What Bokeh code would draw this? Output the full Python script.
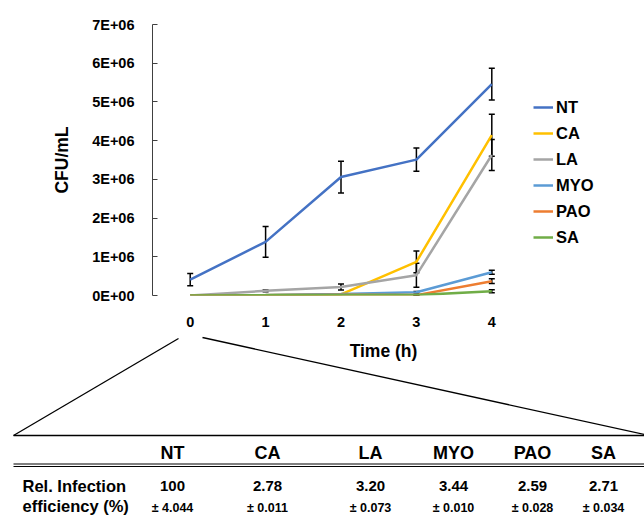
from bokeh.plotting import figure
from bokeh.models import (Range1d, Whisker, TeeHead, Legend, LegendItem,
                          FixedTicker, ColumnDataSource)
from bokeh.core.properties import value
from bokeh.embed import file_html
from bokeh.resources import INLINE

# ---------------- data ----------------
hours = [0, 1, 2, 3, 4]
series_names = ["NT", "CA", "LA", "MYO", "PAO", "SA"]
nt = [0.41e6, 1.385e6, 3.06e6, 3.51e6, 5.46e6]
nt_err = [0.16e6, 0.40e6, 0.41e6, 0.30e6, 0.41e6]
ca = [0.0, 0.01e6, 0.03e6, 0.87e6, 4.14e6]
ca_err = [0.0, 0.0, 0.0, 0.28e6, 0.54e6]
la = [0.0, 0.12e6, 0.22e6, 0.525e6, 3.63e6]
la_err = [0.0, 0.02e6, 0.08e6, 0.31e6, 0.40e6]
myo = [0.0, 0.01e6, 0.04e6, 0.085e6, 0.60e6]
myo_err = [0.0, 0.0, 0.0, 0.02e6, 0.05e6]
pao = [0.0, 0.005e6, 0.02e6, 0.01e6, 0.37e6]
pao_err = [0.0, 0.0, 0.0, 0.01e6, 0.06e6]
sa = [0.0, 0.005e6, 0.01e6, 0.01e6, 0.11e6]
sa_err = [0.0, 0.0, 0.0, 0.01e6, 0.04e6]

y_tick_values = [0, 1000000, 2000000, 3000000, 4000000, 5000000, 6000000, 7000000]
y_tick_labels = ["0E+00", "1E+06", "2E+06", "3E+06", "4E+06", "5E+06", "6E+06", "7E+06"]

table_groups = ["NT", "CA", "LA", "MYO", "PAO", "SA"]
rel_eff = ["100", "2.78", "3.20", "3.44", "2.59", "2.71"]
rel_eff_sd = ["4.044", "0.011", "0.073", "0.010", "0.028", "0.034"]
row_label = ["Rel. Infection", "efficiency (%)"]
x_title = "Time (h)"

colors = ["#4472C4", "#FFC000", "#A5A5A5", "#5B9BD5", "#ED7D31", "#70AD47"]
values = [nt, ca, la, myo, pao, sa]
errors = [nt_err, ca_err, la_err, myo_err, pao_err, sa_err]

# ---------------- layout ----------------
W = 644
H_TOP = 336
H_BOT = 518 - H_TOP
FL, PR, FT, FB = 152, 529, 24, 295   # chart plot-area edges in page pixels
FR = 640                              # frame extends right to hold the legend
FONT = "Liberation Sans"
px_per_hour = (PR - FL) / 5.0
x_end = -0.5 + (FR - FL) / px_per_hour

p = figure(width=W, height=H_TOP, x_range=Range1d(-0.5, x_end), y_range=Range1d(0, 7e6),
           output_backend="svg", toolbar_location=None,
           min_border_left=FL, min_border_right=W - FR,
           min_border_top=FT, min_border_bottom=H_TOP - FB)
p.outline_line_color = None
p.xgrid.visible = False
p.ygrid.visible = False
p.background_fill_color = "white"
p.border_fill_color = "white"

# y axis
p.yaxis.ticker = FixedTicker(ticks=y_tick_values)
p.yaxis.major_label_overrides = dict(zip(y_tick_values, y_tick_labels))
p.yaxis.axis_line_color = "#404040"
p.yaxis.major_tick_line_color = "#404040"
p.yaxis.major_tick_in = 5
p.yaxis.major_tick_out = 0
p.yaxis.minor_tick_line_color = None
p.yaxis.major_label_standoff = 18
p.yaxis.major_label_text_font = FONT
p.yaxis.major_label_text_font_style = "bold"
p.yaxis.major_label_text_font_size = "14.5px"
p.yaxis.major_label_text_color = "black"
p.yaxis.axis_label = "CFU/mL"
p.yaxis.axis_label_text_font = FONT
p.yaxis.axis_label_text_font_style = "bold"
p.yaxis.axis_label_text_font_size = "17.5px"
p.yaxis.axis_label_text_color = "black"
p.yaxis.axis_label_standoff = 17

# x axis
p.xaxis.ticker = FixedTicker(ticks=hours)
p.xaxis.axis_line_color = None
p.xaxis.major_tick_line_color = None
p.xaxis.minor_tick_line_color = None
p.xaxis.major_label_standoff = 15
p.xaxis.major_label_text_font = FONT
p.xaxis.major_label_text_font_style = "bold"
p.xaxis.major_label_text_font_size = "14.5px"
p.xaxis.major_label_text_color = "black"

items = []
for name, vals, errs, col in zip(series_names, values, errors, colors):
    src = ColumnDataSource(dict(x=hours, y=vals))
    r = p.line("x", "y", source=src, line_color=col, line_width=2.5)
    items.append(LegendItem(label=name, renderers=[r]))
    esrc = ColumnDataSource(dict(
        x=[h for h, e in zip(hours, errs) if e > 0],
        lo=[v - e for v, e in zip(vals, errs) if e > 0],
        hi=[v + e for v, e in zip(vals, errs) if e > 0]))
    w = Whisker(base="x", lower="lo", upper="hi", source=esrc, dimension="height",
                line_color="black", line_width=1.5,
                upper_head=TeeHead(size=6, line_color="black", line_width=1.5),
                lower_head=TeeHead(size=6, line_color="black", line_width=1.5))
    p.add_layout(w)

legend = Legend(items=items, location=(533 - FL, FB - 250),
                glyph_width=20, glyph_height=26, label_height=26, spacing=0,
                label_standoff=3, padding=0, margin=0,
                border_line_color=None, background_fill_alpha=0,
                label_text_font=FONT, label_text_font_style="bold",
                label_text_font_size="16.5px", label_text_color="black")
p.add_layout(legend)

# ---------------- zoom lines and table (pixel-space figure) ----------------
q = figure(width=W, height=H_BOT, x_range=Range1d(0, W), y_range=Range1d(518, H_TOP),
           output_backend="svg", toolbar_location=None,
           x_axis_location=None, y_axis_location=None, min_border=0)
q.outline_line_color = None
q.xgrid.visible = False
q.ygrid.visible = False
q.background_fill_color = "white"
q.border_fill_color = "white"

# zoom lines from the t = 0 point down to the table
q.segment(x0=[178, 202], y0=[338, 337], x1=[13, 644], y1=[435, 434],
          line_color="black", line_width=1.3)
# table rules
q.segment(x0=[13], y0=[435], x1=[644], y1=[435], line_color="black", line_width=1.6)
q.segment(x0=[13, 13], y0=[463.5, 466], x1=[644, 644], y1=[463.5, 466],
          line_color="black", line_width=1.1)

col_x = [172, 267, 370, 453, 532, 603]
tsrc = ColumnDataSource(dict(
    x=col_x, head=table_groups, val=rel_eff,
    sd=["\u00b1 " + s for s in rel_eff_sd],
    y_head=[452] * 6, y_val=[485] * 6, y_sd=[507] * 6))
common = dict(source=tsrc, text_align="center", text_baseline="middle",
              text_font=value(FONT), text_font_style="bold", text_color="black")
q.text(x="x", y="y_head", text="head", text_font_size="18px", **common)
q.text(x="x", y="y_val", text="val", text_font_size="15px", **common)
q.text(x="x", y="y_sd", text="sd", text_font_size="12.5px", **common)

q.text(x=[22, 22], y=[485, 505], text=row_label, text_align="left",
       text_baseline="middle", text_font=value(FONT), text_font_style="bold",
       text_font_size="16.5px", text_color="black")
q.text(x=[383], y=[350], text=[x_title], text_align="center",
       text_baseline="middle", text_font=value(FONT), text_font_style="bold",
       text_font_size="17.5px", text_color="black")

open("out.html", "w").write(file_html([p, q], INLINE))
